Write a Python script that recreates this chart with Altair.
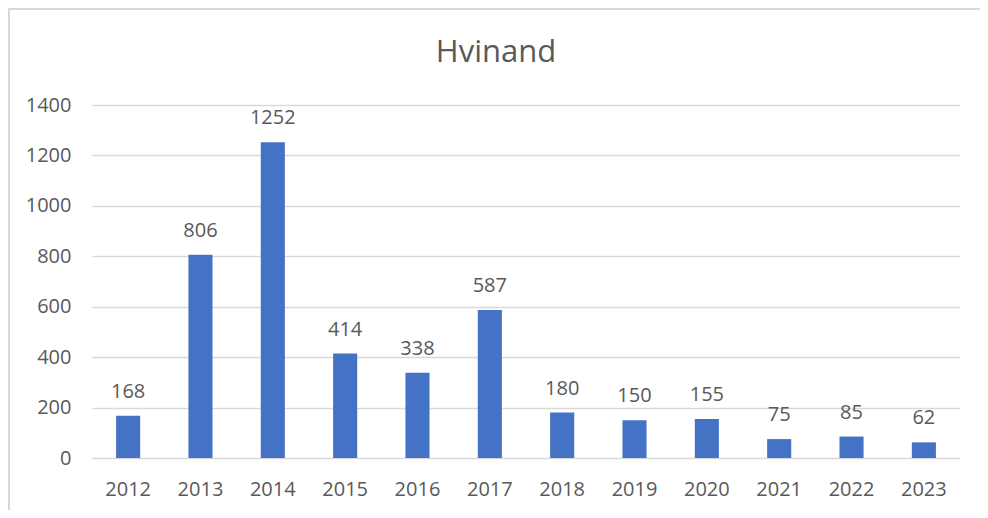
import altair as alt
import pandas as pd

years = ["2012", "2013", "2014", "2015", "2016", "2017", "2018", "2019", "2020", "2021", "2022", "2023"]
counts = [168, 806, 1252, 414, 338, 587, 180, 150, 155, 75, 85, 62]
title_text = "Hvinand"
y_ticks = [0, 200, 400, 600, 800, 1000, 1200, 1400]

df = pd.DataFrame({"year": years, "count": counts})

FONT = "Open Sans"
TXT = "#595959"
BLUE = "#4472C4"
GRID = "#D9D9D9"

x = alt.X("year:N", sort=years, title=None,
          scale=alt.Scale(paddingInner=0.667, paddingOuter=0.333),
          axis=alt.Axis(labelAngle=0, ticks=False, domain=False, grid=False,
                        labelFont=FONT, labelFontSize=20, labelColor=TXT,
                        labelPadding=21))
y = alt.Y("count:Q", title=None,
          scale=alt.Scale(domain=[0, 1400], nice=False),
          axis=alt.Axis(values=y_ticks, format="d", ticks=False, domain=False, grid=True,
                        gridColor=GRID, gridWidth=1.5,
                        labelFont=FONT, labelFontSize=20, labelColor=TXT,
                        labelPadding=21))

base = alt.Chart(df)
bars = base.mark_bar(color=BLUE).encode(x=x, y=y)
labels = base.mark_text(font=FONT, fontSize=20, color=TXT, baseline="alphabetic",
                        dy=-18).encode(x=x, y=y, text="count:Q")

title = alt.Chart(pd.DataFrame({"t": [title_text]})).mark_text(
    font=FONT, fontSize=31, color=TXT, baseline="alphabetic", align="center"
).encode(x=alt.value(404), y=alt.value(-43), text="t:N")

one = pd.DataFrame({"t": [0]})
border_left = alt.Chart(one).mark_rule(color=GRID, strokeWidth=2).encode(
    x=alt.value(-83), y=alt.value(-97), y2=alt.value(440))
border_top = alt.Chart(one).mark_rule(color=GRID, strokeWidth=2).encode(
    x=alt.value(-84), x2=alt.value(920), y=alt.value(-96))

chart = alt.layer(border_left, border_top, bars, labels, title).properties(
    width=868, height=353,
    autosize=alt.AutoSizeParams(type="none"),
    padding={"left": 84, "top": 97, "right": 20, "bottom": 52},
    background="white",
).configure_view(stroke=None)

chart.save("out.html", embed_options={"renderer": "svg", "actions": False})
